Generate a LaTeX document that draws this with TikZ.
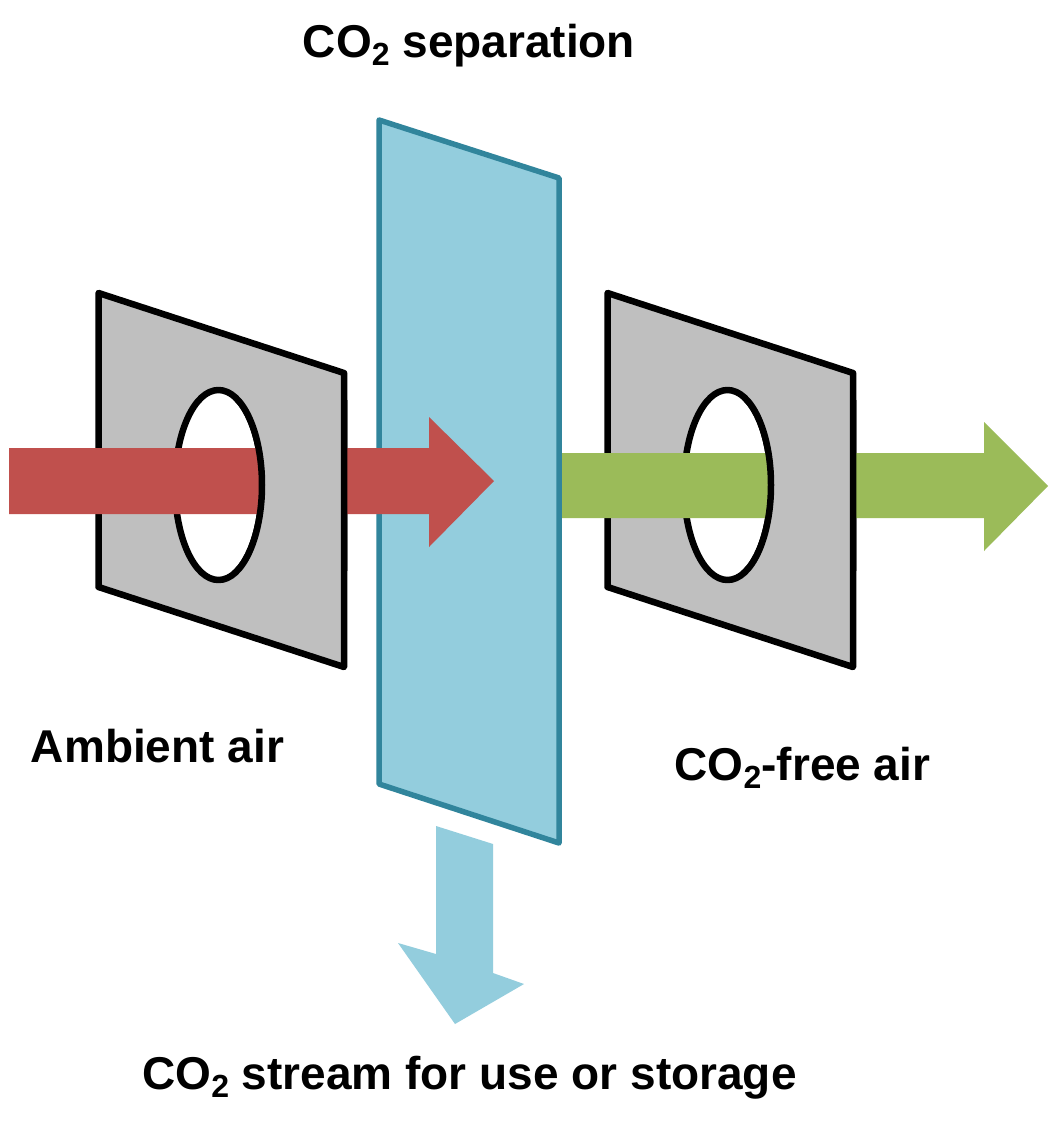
\documentclass[tikz,border=0pt]{standalone}
\usepackage{fontspec}
\setmainfont{Liberation Sans}
\usepackage{xcolor}
\definecolor{airRed}{RGB}{192,80,77}
\definecolor{airGreen}{RGB}{155,187,89}
\definecolor{frameGray}{RGB}{191,191,191}
\definecolor{sepBlue}{RGB}{147,205,221}
\definecolor{sepBlueDark}{RGB}{49,133,156}
\newcommand{\CarbonTwo}{CO\raisebox{-8.5pt}{\fontsize{32}{32}\selectfont 2}}
\newcommand{\AirFrame}[1]{%
\begin{scope}[xshift=#1]
  \filldraw[fill=frameGray,draw=black,line width=6.5pt,line join=round,even odd rule]
    (98.5,293) -- (344,373) -- (344,667) -- (98.5,587) -- cycle
    (218.5,485) ellipse [x radius=43.5,y radius=95];
\end{scope}}

\begin{document}
\begin{tikzpicture}[x=1pt,y=-1pt,
  lbl/.style={anchor=base,inner sep=0pt,font=\bfseries\fontsize{46}{52}\selectfont}]
\useasboundingbox (0,0) rectangle (1049,1128);
\fill[white] (0,0) rectangle (1049,1128);
% separation panel
\filldraw[fill=sepBlue,draw=sepBlueDark,line width=5.5pt,line join=round]
  (379,120) -- (559,178) -- (559,843) -- (379,784) -- cycle;
% incoming air
\AirFrame{0pt}
\fill[airRed] (9,448) -- (429,448) -- (429,417) -- (494,481) -- (429,547) -- (429,514) -- (9,514) -- cycle;
\begin{scope}
  \clip (218.5,400) rectangle (348,570);
  \AirFrame{0pt}
\end{scope}
% outgoing air
\AirFrame{509pt}
\fill[airGreen] (562,453) -- (984,453) -- (984,422) -- (1048,486) -- (984,551) -- (984,518) -- (562,518) -- cycle;
\begin{scope}
  \clip (727.5,400) rectangle (857,570);
  \AirFrame{509pt}
\end{scope}
% CO2 stream
\fill[sepBlue] (436,826) -- (493,844) -- (493,973) -- (524,984) -- (455,1024) -- (398,943) -- (436,954) -- cycle;
\node[lbl] (sepLabel) at (469,57) {\CarbonTwo{} separation};
\node[lbl] (inLabel) at (157.5,762) {Ambient air};
\node[lbl] (outLabel) at (802.5,780) {\CarbonTwo-free air};
\node[lbl] (streamLabel) at (469.5,1089) {\CarbonTwo{} stream for use or storage};
\end{tikzpicture}
\end{document}
